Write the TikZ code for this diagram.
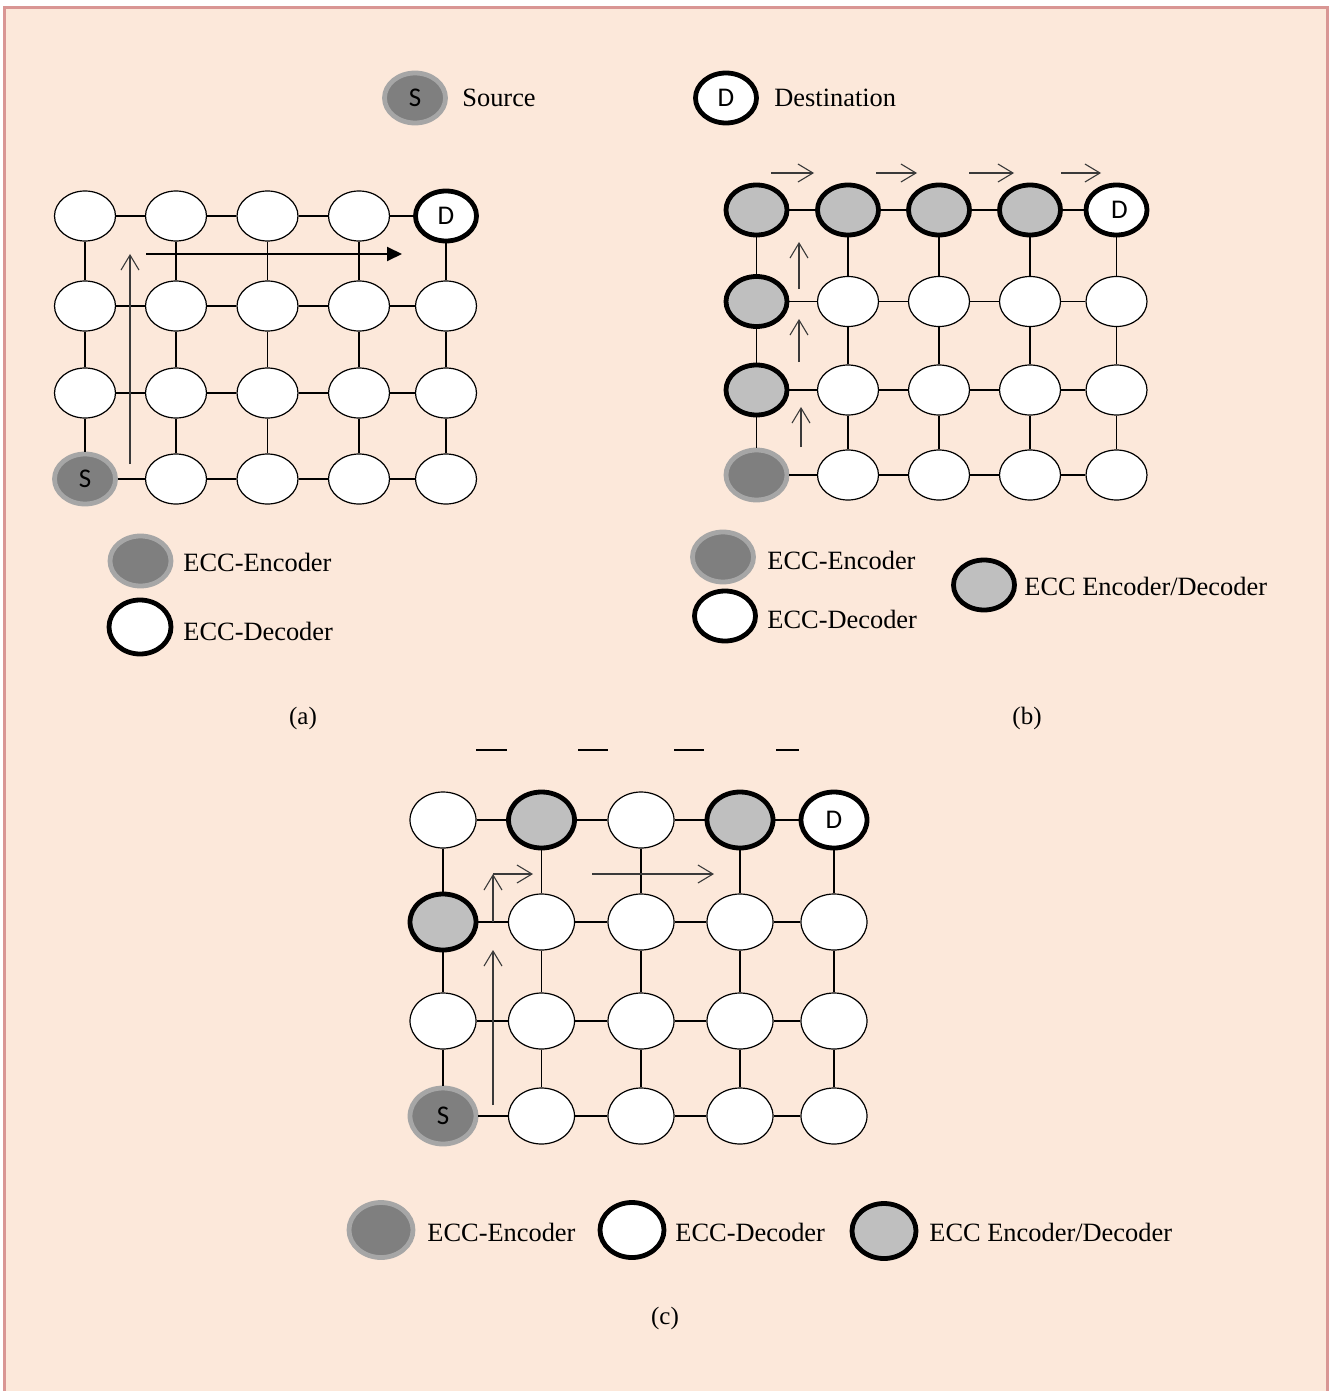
\documentclass[tikz,border=0pt]{standalone}
\usepackage{fontspec}
\setmainfont{Liberation Serif}
\newfontfamily\calib{Carlito}
\usetikzlibrary{shapes.geometric,arrows.meta}
\definecolor{bgpeach}{HTML}{FCE8DA}
\definecolor{framepink}{HTML}{D99694}
\definecolor{srcfill}{HTML}{7F7F7F}
\definecolor{srcring}{HTML}{A6A6A6}
\definecolor{midgray}{HTML}{BFBFBF}
\definecolor{arrowgray}{HTML}{3A3A3A}
\tikzset{
 nd/.style={ellipse, inner sep=0pt, minimum width=30.5pt, minimum height=25pt, font=\calib\fontsize{13.5}{15}\selectfont},
 wnode/.style={nd, draw=black, fill=white, line width=0.6pt},
 dnode/.style={nd, draw=black, fill=white, line width=2.4pt},
 gnode/.style={nd, draw=black, fill=midgray, line width=2.4pt},
 snode/.style={nd, draw=srcring, fill=srcfill, line width=2.4pt},
 bignode/.style={minimum width=33pt, minimum height=28pt},
 legbig/.style={minimum width=32pt, minimum height=27.5pt},
 edgeln/.style={line width=0.9pt, black},
 flowarr/.style={arrowgray, line width=0.55pt, -{Straight Barb[length=7.5pt,width=9pt]}},
 legtxt/.style={font=\fontsize{13.2}{15}\selectfont, anchor=west, inner sep=0pt},
 captxt/.style={font=\fontsize{12.5}{15}\selectfont, inner sep=0pt},
}
\begin{document}
\begin{tikzpicture}[x=0.5pt, y=-0.5pt]
\useasboundingbox (0,0) rectangle (1329,1391);
\fill[white] (0,0) rectangle (1329,1391);
\fill[bgpeach] (4.5,7.5) rectangle (1327.5,1391);
\draw[framepink, line width=1.5pt] (4.5,1392) -- (4.5,7.5) -- (1327.5,7.5) -- (1327.5,1392);

% top legend
\node[snode] (legS) at (415,98) {S};
\node[legtxt] (legStxt) at (462,98) {Source};
\node[dnode] (legD) at (726,98) {D};
\node[legtxt] (legDtxt) at (774,98) {Destination};

% ---------- grid (a)
\foreach \x [count=\j] in {85,176,267.5,359,446}{
  \foreach \y [count=\i] in {216,306,393,479}{
    \pgfmathtruncatemacro\k{\i*10+\j}
    \def\st{wnode}\def\tx{}
    \ifnum\k=41 \def\st{snode}\def\tx{S}\fi
    \ifnum\k=15 \def\st{dnode}\def\tx{D}\fi
    \node[\st] (a-\i-\j) at (\x,\y) {\tx};
}}
\foreach \i in {1,...,4}{
  \foreach \j [evaluate=\j as \jn using int(\j+1)] in {1,...,4}{
    \draw[edgeln] (a-\i-\j) -- (a-\i-\jn);
}}
\foreach \i [evaluate=\i as \in using int(\i+1)] in {1,2,3}{
  \foreach \j in {1,...,5}{
    \draw[edgeln] (a-\i-\j) -- (a-\in-\j);
}}
\coordinate (aV0) at (130,464);
\coordinate (aV1) at (130,254);
\coordinate (aH0) at (146,254);
\coordinate (aH1) at (402,254);
\draw[flowarr] (aV0) -- (aV1);
\draw[black, line width=1pt, -{Triangle[length=7.5pt,width=7pt]}] (aH0) -- (aH1);

\node[snode] (legAe) at (140.5,561) {};
\node[legtxt] (legAetxt) at (183,562) {ECC-Encoder};
\node[dnode, minimum width=31pt, minimum height=27pt] (legAd) at (140,627) {};
\node[legtxt] (legAdtxt) at (183,631) {ECC-Decoder};
\node[captxt] (capA) at (303,718) {(a)};

% ---------- grid (b)
\foreach \x [count=\j] in {756.5,848,939,1030,1116.5}{
  \foreach \y [count=\i] in {210,301.5,390,475}{
    \pgfmathtruncatemacro\k{\i*10+\j}
    \def\st{wnode}\def\tx{}
    \ifnum\k=11 \def\st{gnode}\fi
    \ifnum\k=12 \def\st{gnode}\fi
    \ifnum\k=13 \def\st{gnode}\fi
    \ifnum\k=14 \def\st{gnode}\fi
    \ifnum\k=21 \def\st{gnode}\fi
    \ifnum\k=31 \def\st{gnode}\fi
    \ifnum\k=41 \def\st{snode}\fi
    \ifnum\k=15 \def\st{dnode}\def\tx{\hspace*{3pt}D}\fi
    \node[\st] (b-\i-\j) at (\x,\y) {\tx};
}}
\foreach \i in {1,...,4}{
  \foreach \j [evaluate=\j as \jn using int(\j+1)] in {1,...,4}{
    \draw[edgeln] (b-\i-\j) -- (b-\i-\jn);
}}
\foreach \i [evaluate=\i as \in using int(\i+1)] in {1,2,3}{
  \foreach \j in {1,...,5}{
    \draw[edgeln] (b-\i-\j) -- (b-\in-\j);
}}
\foreach \p/\q [count=\n] in {771/814,876/917,969/1014,1061/1101}{
  \coordinate (bT\n a) at (\p,173);
  \coordinate (bT\n b) at (\q,173);
  \draw[flowarr] (bT\n a) -- (bT\n b);
}
\coordinate (bU1a) at (799,289); \coordinate (bU1b) at (799,242);
\coordinate (bU2a) at (799,362); \coordinate (bU2b) at (799,319);
\coordinate (bU3a) at (801,447); \coordinate (bU3b) at (801,407);
\draw[flowarr] (bU1a) -- (bU1b);
\draw[flowarr] (bU2a) -- (bU2b);
\draw[flowarr] (bU3a) -- (bU3b);

\node[snode] (legBe) at (723,557) {};
\node[legtxt] (legBetxt) at (767,560) {ECC-Encoder};
\node[dnode] (legBd) at (725,616) {};
\node[legtxt] (legBdtxt) at (767,619) {ECC-Decoder};
\node[gnode] (legBg) at (984,585) {};
\node[legtxt] (legBgtxt) at (1024,586) {ECC Encoder/Decoder};
\node[captxt] (capB) at (1027,718) {(b)};

% ---------- grid (c)
\foreach \p/\q [count=\n] in {476/507,578/608,674/704,776/799}{
  \coordinate (cD\n a) at (\p,750);
  \coordinate (cD\n b) at (\q,750);
  \draw[black, line width=1pt] (cD\n a) -- (cD\n b);
}
\foreach \x [count=\j] in {443,541.5,641,740,834}{
  \foreach \y [count=\i] in {820,922,1021,1116}{
    \pgfmathtruncatemacro\k{\i*10+\j}
    \def\st{wnode}\def\tx{}
    \ifnum\k=12 \def\st{gnode}\fi
    \ifnum\k=14 \def\st{gnode}\fi
    \ifnum\k=21 \def\st{gnode}\fi
    \ifnum\k=41 \def\st{snode}\def\tx{S}\fi
    \ifnum\k=15 \def\st{dnode}\def\tx{D}\fi
    \node[\st, bignode] (c-\i-\j) at (\x,\y) {\tx};
}}
\foreach \i in {1,...,4}{
  \foreach \j [evaluate=\j as \jn using int(\j+1)] in {1,...,4}{
    \draw[edgeln] (c-\i-\j) -- (c-\i-\jn);
}}
\foreach \i [evaluate=\i as \in using int(\i+1)] in {1,2,3}{
  \foreach \j in {1,...,5}{
    \draw[edgeln] (c-\i-\j) -- (c-\in-\j);
}}
\coordinate (cV0) at (493,1105);
\coordinate (cV1) at (493,950);
\coordinate (cL0) at (493,922);
\coordinate (cL1) at (493,874);
\coordinate (cL2) at (533,874);
\coordinate (cH0) at (592,874);
\coordinate (cH1) at (714,874);
\draw[flowarr] (cV0) -- (cV1);
\draw[flowarr] (cL0) -- (cL1);
\draw[flowarr] (cL1) -- (cL2);
\draw[flowarr] (cH0) -- (cH1);

\node[snode, legbig] (legCe) at (381,1230) {};
\node[legtxt] (legCetxt) at (427,1232) {ECC-Encoder};
\node[dnode, legbig] (legCd) at (632,1230) {};
\node[legtxt] (legCdtxt) at (675,1232) {ECC-Decoder};
\node[gnode, legbig] (legCg) at (884,1231) {};
\node[legtxt] (legCgtxt) at (929,1232) {ECC Encoder/Decoder};
\node[captxt] (capC) at (665,1318) {(c)};
\end{tikzpicture}
\end{document}
